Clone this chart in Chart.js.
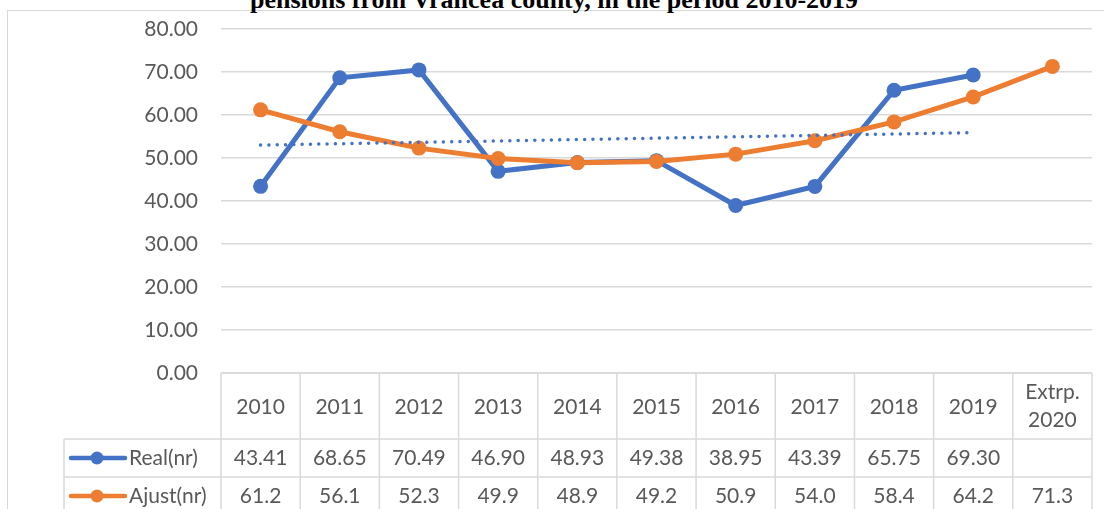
<!DOCTYPE html>
<html><head><meta charset="utf-8">
<script src="https://cdn.jsdelivr.net/npm/chart.js@4.4.0/dist/chart.umd.min.js"></script>
<style>
html,body{margin:0;padding:0;background:#fff;overflow:hidden}
#wrap{position:relative;width:1104px;height:509px;overflow:hidden;background:#fff}
#frame{position:absolute;left:7px;top:10px;width:1120px;height:540px;border:1.5px solid #D9D9D9;box-sizing:border-box}
#title{position:absolute;left:0;width:1108px;top:-13px;text-align:center;font:bold 26px "Liberation Serif",serif;line-height:26px;color:#000;white-space:nowrap}
#c{position:absolute;left:0;top:0}
</style></head>
<body>
<div id="wrap">
  <div id="frame"></div>
  <div id="title">pensions from Vrancea county, in the period 2010-2019</div>
  <canvas id="c" width="1104" height="509"></canvas>
</div>
<script>
// ---- data ----
const categories = ['2010','2011','2012','2013','2014','2015','2016','2017','2018','2019',['Extrp.','2020']];
const realValues = [43.41, 68.65, 70.49, 46.90, 48.93, 49.38, 38.95, 43.39, 65.75, 69.30, null];
const ajustValues = [61.2, 56.1, 52.3, 49.9, 48.9, 49.2, 50.9, 54.0, 58.4, 64.2, 71.3];
const trendValues = [53.0, null, null, null, null, null, null, null, null, 55.9, null];
const seriesNames = ['Real(nr)', 'Ajust(nr)'];
const yTicks = [0, 10, 20, 30, 40, 50, 60, 70, 80];

const BLUE = '#4472C4', ORANGE = '#ED7D31', GRID = '#D9D9D9', TXT = '#595959';
const FONT = '"Lato", "Open Sans", sans-serif';

const tablePlugin = {
  id: 'dataTable',
  afterDraw(chart) {
    const ctx = chart.ctx;
    const xs = chart.scales.x;
    const area = chart.chartArea;
    const n = categories.length;
    const colW = (area.right - area.left) / n;
    const top = area.bottom;
    const headerH = 66, rowH = 38;
    const legendLeft = 64;
    const r1 = top + headerH, r2 = r1 + rowH, r3 = r2 + rowH;
    ctx.save();
    ctx.strokeStyle = GRID;
    ctx.lineWidth = 1.5;
    ctx.beginPath();
    ctx.moveTo(area.left, top); ctx.lineTo(area.right, top);
    ctx.moveTo(legendLeft, r1); ctx.lineTo(area.right, r1);
    ctx.moveTo(legendLeft, r2); ctx.lineTo(area.right, r2);
    ctx.moveTo(legendLeft, r3); ctx.lineTo(area.right, r3);
    for (let i = 0; i <= n; i++) {
      const xx = i < n ? xs.getPixelForValue(i) - colW / 2 : xs.getPixelForValue(n - 1) + colW / 2;
      ctx.moveTo(xx, top); ctx.lineTo(xx, r3 + 10);
    }
    ctx.moveTo(legendLeft, r1); ctx.lineTo(legendLeft, r3 + 10);
    ctx.stroke();

    ctx.fillStyle = TXT;
    ctx.font = '21px ' + FONT;
    ctx.textAlign = 'center';
    ctx.textBaseline = 'middle';
    for (let i = 0; i < n; i++) {
      const cx = xs.getPixelForValue(i);
      const lab = categories[i];
      if (Array.isArray(lab)) {
        ctx.fillText(lab[0], cx, top + headerH / 2 - 14);
        ctx.fillText(lab[1], cx, top + headerH / 2 + 14);
      } else {
        ctx.fillText(lab, cx, top + headerH / 2 + 1);
      }
      if (realValues[i] !== null) ctx.fillText(realValues[i].toFixed(2), cx, r1 + rowH / 2);
      if (ajustValues[i] !== null) ctx.fillText(ajustValues[i].toFixed(1), cx, r2 + rowH / 2);
    }
    const keys = [[BLUE, r1 + rowH / 2, seriesNames[0]], [ORANGE, r2 + rowH / 2, seriesNames[1]]];
    for (const [col, y, name] of keys) {
      ctx.strokeStyle = col;
      ctx.lineWidth = 4.5;
      ctx.lineCap = 'round';
      ctx.beginPath(); ctx.moveTo(71, y); ctx.lineTo(125, y); ctx.stroke();
      ctx.fillStyle = col;
      ctx.beginPath(); ctx.arc(97, y, 6.5, 0, Math.PI * 2); ctx.fill();
      ctx.fillStyle = TXT;
      ctx.textAlign = 'left';
      ctx.fillText(name, 129, y);
    }
    ctx.restore();
  }
};

new Chart(document.getElementById('c'), {
  type: 'line',
  data: {
    labels: categories,
    datasets: [
      {
        label: 'Trend', data: trendValues, borderColor: BLUE, backgroundColor: BLUE,
        borderWidth: 3.5, borderDash: [0.01, 8.3], borderCapStyle: 'round',
        pointRadius: 0, spanGaps: true, fill: false, order: 0
      },
      {
        label: seriesNames[1], data: ajustValues, borderColor: ORANGE, backgroundColor: ORANGE,
        borderWidth: 5, pointRadius: 7.5, pointBorderWidth: 0, pointBackgroundColor: ORANGE,
        tension: 0, fill: false, order: 1
      },
      {
        label: seriesNames[0], data: realValues, borderColor: BLUE, backgroundColor: BLUE,
        borderWidth: 5, pointRadius: 7.5, pointBorderWidth: 0, pointBackgroundColor: BLUE,
        tension: 0, fill: false, order: 2
      }
    ]
  },
  options: {
    responsive: false,
    animation: false,
    devicePixelRatio: 1,
    layout: { padding: { left: 0, right: 12, top: 29, bottom: 136 } },
    plugins: { legend: { display: false }, tooltip: { enabled: false }, title: { display: false } },
    scales: {
      x: { display: false, offset: true },
      y: {
        min: 0, max: 80,
        afterFit(scale) { scale.width = 221; scale.paddingTop = 0; scale.paddingBottom = 0; },
        afterBuildTicks(scale) { scale.ticks = yTicks.map(v => ({ value: v })); },
        border: { display: false },
        grid: { color: GRID, lineWidth: 1.5, drawTicks: false },
        ticks: {
          padding: 23, color: TXT, font: { family: FONT, size: 21 },
          callback: v => Number(v).toFixed(2)
        }
      }
    }
  },
  plugins: [tablePlugin]
});
</script>
</body></html>
